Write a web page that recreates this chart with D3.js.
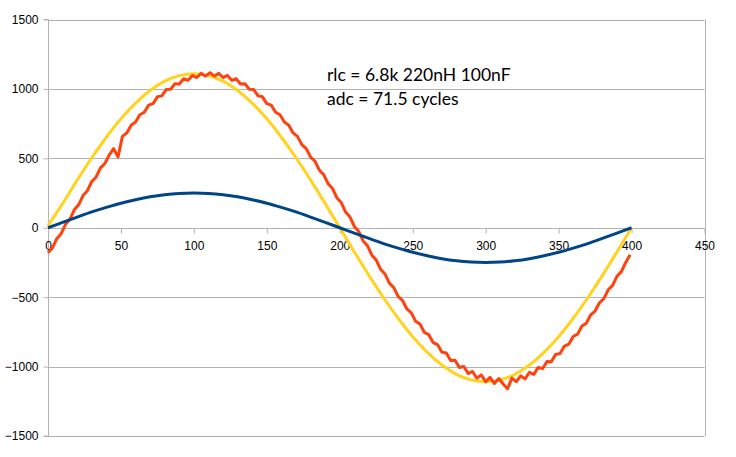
<!DOCTYPE html>
<html><head><meta charset="utf-8">
<script src="https://cdn.jsdelivr.net/npm/d3@7"></script>
<style>body{margin:0;background:#fff}svg{display:block}</style>
</head><body><svg id="c" width="736" height="457"></svg>
<script>
// ---- data ----
const xTicks = [0, 50, 100, 150, 200, 250, 300, 350, 400, 450];
const yTicks = [-1500, -1000, -500, 0, 500, 1000, 1500];
const annotation = ["rlc = 6.8k 220nH 100nF", "adc = 71.5 cycles"];

// smooth series sampled every 10 units (x = 0..400)
const smoothStep = 10;
const yellowValues = [15, 174, 343, 504, 652, 785, 898, 989, 1056, 1096, 1110, 1096, 1056, 989, 898, 785, 652, 504, 343, 174, 0,
  -174, -343, -504, -652, -785, -898, -989, -1056, -1096, -1110, -1096, -1056, -989, -898, -785, -652, -504, -343, -174, 0];
const blueValues = [0, 39, 77, 114, 147, 177, 202, 223, 238, 247, 250, 247, 238, 223, 202, 177, 147, 114, 77, 39, 0,
  -39, -77, -114, -147, -177, -202, -223, -238, -247, -250, -247, -238, -223, -202, -177, -147, -114, -77, -39, 0];

// noisy series sampled every 3 units (x = 0..399)
const orangeStep = 3;
const orangeValues = [-180, -146, -79, -43, 25, 61, 129, 165, 232, 267, 333, 366, 431, 463, 525, 570, 510, 658, 683, 739,
  761, 814, 832, 883, 894, 943, 950, 995, 997, 1037, 1035, 1073, 1062, 1097, 1082, 1112, 1092, 1117, 1092, 1112,
  1082, 1097, 1062, 1073, 1035, 1037, 997, 995, 950, 943, 894, 883, 832, 814, 761, 739, 683, 658, 599, 570,
  509, 479, 415, 382, 317, 283, 216, 181, 113, 77, 9, -27, -95, -130, -198, -233, -300, -333, -399, -431,
  -494, -524, -585, -613, -673, -694, -754, -771, -827, -841, -896, -902, -956, -954, -1007, -999, -1050, -1035, -1084, -1060,
  -1109, -1078, -1122, -1086, -1125, -1160, -1083, -1109, -1067, -1088, -1041, -1056, -1006, -1015, -963, -965, -912, -906, -852, -839,
  -783, -766, -708, -687, -627, -600, -540, -510, -447, -415, -350, -316, -250, -195];

// ---- layout ----
const svg = d3.select("#c");
const x = d3.scaleLinear().domain([0, 450]).range([48, 704.5]);
const y = d3.scaleLinear().domain([-1500, 1500]).range([436, 19.5]);
const grid = "#b3b3b3";
const font = "'Liberation Sans', Arial, sans-serif";

// horizontal gridlines
svg.append("g").selectAll("line").data(yTicks).join("line")
  .attr("x1", x(0)).attr("x2", x(450))
  .attr("y1", d => Math.round(y(d)) + 0.5).attr("y2", d => Math.round(y(d)) + 0.5)
  .attr("stroke", grid).attr("stroke-width", 1);
// right border
svg.append("line").attr("x1", Math.round(x(450)) + 0.5).attr("x2", Math.round(x(450)) + 0.5)
  .attr("y1", y(1500)).attr("y2", y(-1500)).attr("stroke", grid);

// y axis
const yAxis = d3.axisLeft(y).tickValues(yTicks).tickSize(5).tickPadding(5).tickFormat(d3.format("d"));
const gy = svg.append("g").attr("transform", `translate(${Math.round(x(0)) + 0.5},0)`).call(yAxis);
gy.select(".domain").attr("stroke", grid).attr("d", `M-5,${y(1500)}H0V${y(-1500)}H-5`);
gy.selectAll(".tick line").attr("stroke", grid);
gy.selectAll(".tick text").attr("font-family", font).attr("font-size", 12).attr("fill", "#000");

// x axis at y = 0
const xAxis = d3.axisBottom(x).tickValues(xTicks).tickSize(5).tickPadding(8).tickFormat(d3.format("d"));
const gx = svg.append("g").attr("transform", `translate(0,${Math.round(y(0)) + 0.5})`).call(xAxis);
gx.select(".domain").attr("stroke", grid).attr("d", `M${x(0)},0H${x(450)}`);
gx.selectAll(".tick line").attr("stroke", grid);
gx.selectAll(".tick text").attr("font-family", font).attr("font-size", 12).attr("fill", "#000");

// series
const smoothLine = d3.line().x((d, i) => x(i * smoothStep)).y(d => y(d)).curve(d3.curveCatmullRom);
const noisyLine = d3.line().x((d, i) => x(i * orangeStep)).y(d => y(d));

svg.append("path").datum(yellowValues).attr("d", smoothLine)
  .attr("fill", "none").attr("stroke", "#ffd320").attr("stroke-width", 3).attr("stroke-linejoin", "round");
svg.append("path").datum(orangeValues).attr("d", noisyLine)
  .attr("fill", "none").attr("stroke", "#ff420e").attr("stroke-width", 3).attr("stroke-linejoin", "round");
svg.append("path").datum(blueValues).attr("d", smoothLine)
  .attr("fill", "none").attr("stroke", "#004586").attr("stroke-width", 3).attr("stroke-linejoin", "round");

// annotation
svg.append("g").selectAll("text").data(annotation).join("text")
  .attr("x", 327).attr("y", (d, i) => 80.5 + i * 24.5)
  .attr("font-family", "Lato, Carlito, Calibri, sans-serif").attr("font-size", 17.5).attr("fill", "#000")
  .text(d => d);
</script></body></html>
